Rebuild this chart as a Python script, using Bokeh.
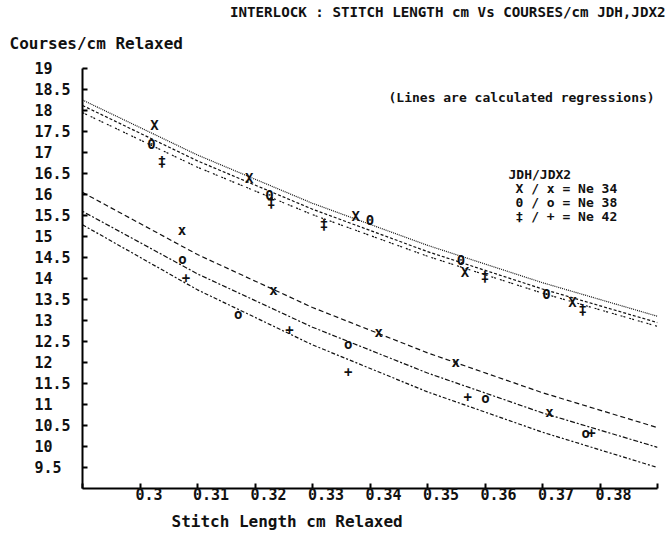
from bokeh.plotting import figure
from bokeh.models import Label, FixedTicker, Range1d, Title
from bokeh.embed import file_html
from bokeh.resources import INLINE
from bokeh.core.properties import value

FONT = "DejaVu Sans Mono"
NBSP = "\u00a0"

# ---- measured points: JDH (upper group, capital symbols) ----
jdh_ne34_len = [0.3025, 0.3190, 0.3375, 0.3565, 0.3752]
jdh_ne34_cpc = [17.65, 16.40, 15.50, 14.15, 13.45]
jdh_ne38_len = [0.3020, 0.3225, 0.3400, 0.3558, 0.3707]
jdh_ne38_cpc = [17.20, 16.00, 15.40, 14.45, 13.62]
jdh_ne42_len = [0.3038, 0.3228, 0.3320, 0.3600, 0.3770]
jdh_ne42_cpc = [16.80, 15.82, 15.30, 14.07, 13.28]

# ---- measured points: JDX2 (lower group, small symbols) ----
jdx2_ne34_len = [0.3073, 0.3232, 0.3415, 0.3549, 0.3712]
jdx2_ne34_cpc = [15.15, 13.72, 12.72, 12.02, 10.82]
jdx2_ne38_len = [0.3074, 0.3171, 0.3362, 0.3601, 0.3775]
jdx2_ne38_cpc = [14.47, 13.15, 12.45, 11.15, 10.32]
jdx2_ne42_len = [0.3080, 0.3260, 0.3362, 0.3570, 0.3785]
jdx2_ne42_cpc = [14.02, 12.78, 11.78, 11.18, 10.33]

# ---- regression curves, sampled along stitch length ----
reg_len = [0.29, 0.31, 0.33, 0.35, 0.37, 0.39]
reg_jdh_ne34 = [18.25, 16.94, 15.79, 14.79, 13.90, 13.10]
reg_jdh_ne38 = [18.12, 16.80, 15.65, 14.64, 13.75, 12.95]
reg_jdh_ne42 = [17.95, 16.65, 15.52, 14.53, 13.65, 12.86]
reg_jdx2_ne34 = [16.05, 14.57, 13.31, 12.23, 11.28, 10.45]
reg_jdx2_ne38 = [15.60, 14.11, 12.84, 11.75, 10.80, 9.98]
reg_jdx2_ne42 = [15.28, 13.73, 12.42, 11.30, 10.34, 9.50]

# ---- axis ticks and labels ----
x_ticks = [0.29, 0.30, 0.31, 0.32, 0.33, 0.34, 0.35, 0.36, 0.37, 0.38, 0.39]
x_tick_labels = ["", "0.3", "0.31", "0.32", "0.33", "0.34", "0.35", "0.36", "0.37", "0.38", ""]
y_ticks = [9.5, 10, 10.5, 11, 11.5, 12, 12.5, 13, 13.5, 14, 14.5, 15,
           15.5, 16, 16.5, 17, 17.5, 18, 18.5, 19]
y_tick_labels = ["9.5", "10", "10.5", "11", "11.5", "12", "12.5", "13", "13.5", "14",
                 "14.5", "15", "15.5", "16", "16.5", "17", "17.5", "18", "18.5", "19"]

W, H = 671, 534
LEFT, RIGHT, TOP, BOTTOM = 82, 14, 68, 46
ink = "#111111"

p = figure(width=W, height=H, output_backend="svg", toolbar_location=None,
           x_range=Range1d(0.29, 0.39), y_range=Range1d(9.0, 19.0),
           min_border_left=LEFT, min_border_right=RIGHT,
           min_border_top=TOP, min_border_bottom=BOTTOM)
p.outline_line_color = None
p.grid.visible = False
p.background_fill_color = "white"
p.border_fill_color = "white"

# printer-style labels: x labels start at their tick, y labels share a left edge
x_over = {t: (NBSP * max(len(s) - 1, 0)) + s for t, s in zip(x_ticks, x_tick_labels)}
y_width = max(len(s) for s in y_tick_labels)
y_over = {t: s + NBSP * (y_width - len(s)) for t, s in zip(y_ticks, y_tick_labels)}

for ax, ticks, over in ((p.xaxis, x_ticks, x_over), (p.yaxis, y_ticks, y_over)):
    ax.ticker = FixedTicker(ticks=ticks)
    ax.major_label_overrides = over
    ax.axis_line_width = 2
    ax.axis_line_color = "black"
    ax.major_tick_in = 5
    ax.major_tick_out = 0
    ax.major_tick_line_width = 2
    ax.major_tick_line_color = "black"
    ax.minor_tick_line_color = None
    ax.major_label_text_font = FONT
    ax.major_label_text_font_style = "bold"
    ax.major_label_text_color = ink
    ax.major_label_text_font_size = "15px"
p.xaxis.major_label_standoff = -3
p.yaxis.major_label_standoff = 12

# titles around the frame
p.title.text = "INTERLOCK : STITCH LENGTH cm Vs COURSES/cm JDH,JDX2"
p.title.align = "right"
p.title.offset = -8
p.title.text_font = FONT
p.title.text_font_style = "bold"
p.title.text_font_size = "14.2px"
p.title.text_color = ink
p.title.standoff = 0

p.add_layout(Title(text="Courses/cm Relaxed", align="left", offset=9 - LEFT,
                   vertical_align="top",
                   text_font=FONT, text_font_style="bold", text_font_size="16px",
                   text_color=ink, standoff=28), "above")
p.add_layout(Title(text="Stitch Length cm Relaxed", align="left", offset=171 - LEFT,
                   text_font=FONT, text_font_style="bold", text_font_size="16px",
                   text_color=ink, standoff=6), "below")

txt = dict(text_font=value(FONT), text_font_style="bold", text_color=ink)

# regression curves
curves = [
    (reg_jdh_ne34, "1 1"), (reg_jdh_ne38, "3 2"), (reg_jdh_ne42, "2 1 2 4"),
    (reg_jdx2_ne34, "5 3"), (reg_jdx2_ne38, "2 2 5 2"), (reg_jdx2_ne42, "4 2 2 2"),
]
for ys, dash in curves:
    p.line(reg_len, ys, line_color=ink, line_width=1.2, line_dash=dash)

# plotted symbols
sym = [
    (jdh_ne34_len, jdh_ne34_cpc, "X", "14px"),
    (jdh_ne38_len, jdh_ne38_cpc, "0", "14px"),
    (jdh_ne42_len, jdh_ne42_cpc, "\u2021", "14px"),
    (jdx2_ne34_len, jdx2_ne34_cpc, "x", "14px"),
    (jdx2_ne38_len, jdx2_ne38_cpc, "o", "14px"),
    (jdx2_ne42_len, jdx2_ne42_cpc, "+", "14px"),
]
for xs, ys, ch, size in sym:
    p.text(xs, ys, text=value(ch), text_align="center", text_baseline="middle",
           text_font_size=size, **txt)

lab = dict(text_font=FONT, text_font_style="bold", text_color=ink, text_font_size="13px")

# screen units of a Label are counted from the frame's lower-left corner
def sx(px):
    return px - LEFT

def sy(py):
    return (H - BOTTOM) - py

p.add_layout(Label(x=sx(388), y=sy(97), x_units="screen", y_units="screen",
                   text="(Lines are calculated regressions)", text_align="left",
                   text_baseline="middle", **lab))

# key
key_lines = [("JDH/JDX2", 508, 174), ("X / x = Ne 34", 515, 188),
             ("0 / o = Ne 38", 515, 202), ("\u2021 / + = Ne 42", 515, 216)]
for s, x0, y0 in key_lines:
    p.add_layout(Label(x=sx(x0), y=sy(y0), x_units="screen", y_units="screen",
                       text=s, text_align="left", text_baseline="middle", **lab))

open("out.html", "w").write(file_html(p, INLINE))
